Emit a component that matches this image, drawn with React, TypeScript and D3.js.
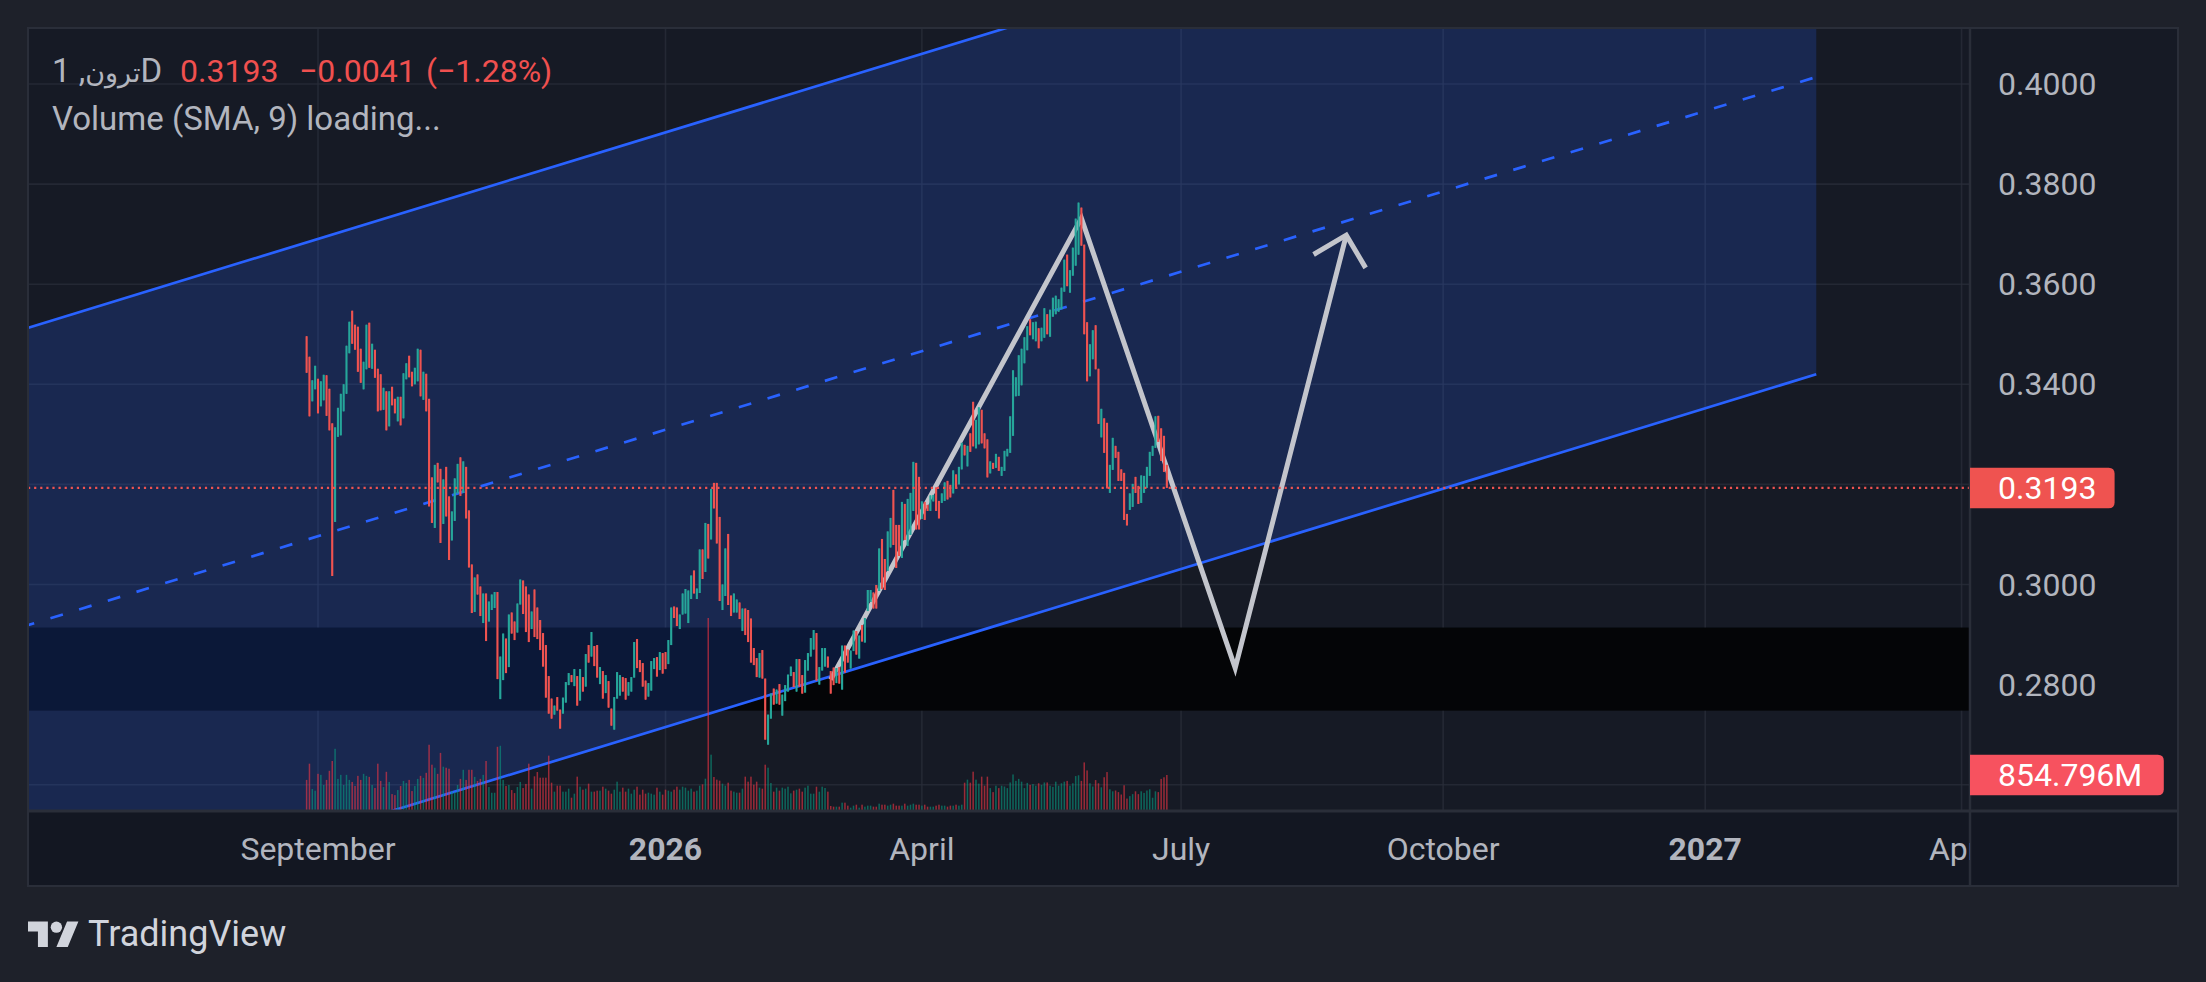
import React, { useEffect } from 'react';
import * as d3 from 'd3';

const W = 2206;
const H = 982;

// daily candles, first bar date; prices are in units of 0.0001
const firstBar = '2025-08-28';

const highs = [
  3496, 3455, 3408, 3437, 3411, 3406, 3419, 3418, 3391, 3322, 3314, 3353, 3381, 3400, 3477, 3525, 3547, 3519, 3515, 3471,
  3445, 3519, 3523, 3481, 3469, 3431, 3420, 3393, 3386, 3386, 3395, 3371, 3375, 3375, 3422, 3442, 3457, 3425, 3433, 3471,
  3469, 3425, 3421, 3371, 3214, 3239, 3243, 3231, 3210, 3235, 3176, 3146, 3212, 3241, 3254, 3246, 3235, 3148, 3040, 3014,
  3020, 2996, 2982, 2982, 2966, 2980, 2985, 2985, 2856, 2902, 2892, 2940, 2944, 2926, 2962, 3010, 3008, 2996, 2980,
  2946, 2990, 2954, 2929, 2903, 2879, 2817, 2772, 2758, 2775, 2750, 2774, 2805, 2823, 2819, 2831, 2817, 2831, 2815, 2861,
  2879, 2905, 2877, 2879, 2835, 2827, 2819, 2807, 2752, 2775, 2825, 2819, 2815, 2813, 2805, 2815, 2885, 2891, 2849, 2843,
  2808, 2803, 2847, 2853, 2855, 2865, 2863, 2865, 2889, 2954, 2956, 2954, 2940, 2982, 2991, 2988, 3018, 3028, 2992, 3070,
  3070, 3123, 3121, 3191, 3203, 3203, 3135, 3000, 3072, 3101, 2978, 2982, 2970, 2964, 2952, 2952, 2949, 2932, 2873, 2853,
  2863,
  2869, 2812, 2740, 2782, 2792, 2790, 2801, 2780, 2799, 2820, 2836, 2825, 2851, 2851, 2819, 2849, 2863, 2893, 2909, 2903,
  2835, 2873, 2873, 2856, 2827, 2834, 2833, 2835, 2878, 2878, 2870, 2868, 2908, 2907, 2898, 2919, 2933, 2989, 2989, 2984,
  2999, 3072, 3091, 3051, 3106, 3133, 3189, 3119, 3119, 3165, 3161, 3171, 3183, 3245, 3243, 3215, 3166, 3165, 3159, 3178,
  3179, 3194, 3167, 3182, 3204, 3207, 3199, 3228, 3220, 3235, 3283, 3279, 3277, 3302, 3365, 3329, 3354, 3349, 3302, 3290,
  3246, 3243, 3261, 3255, 3235, 3267, 3271, 3336, 3428, 3414, 3458, 3471, 3494, 3516, 3530, 3524, 3525, 3512, 3513, 3552,
  3540, 3549, 3573, 3577, 3570, 3593, 3649, 3659, 3628, 3673, 3731, 3763, 3753, 3679, 3524, 3480, 3508, 3518, 3431, 3351,
  3332, 3323, 3239, 3293, 3277, 3265, 3230, 3223, 3141, 3182, 3201, 3215, 3197, 3218, 3217, 3235, 3265, 3277, 3336, 3337,
  3312, 3297, 3239,
];

const lows = [
  3423, 3336, 3366, 3390, 3342, 3356, 3368, 3337, 3308, 3017, 3125, 3295, 3298, 3346, 3381, 3462, 3481, 3469, 3425, 3403,
  3390, 3430, 3433, 3431, 3413, 3346, 3348, 3349, 3308, 3316, 3358, 3342, 3326, 3318, 3332, 3410, 3414, 3396, 3400, 3406,
  3376, 3369, 3346, 3156, 3123, 3113, 3204, 3083, 3121, 3136, 3049, 3088, 3127, 3182, 3177, 3183, 3132, 3034, 2943, 2945,
  2980, 2937, 2923, 2887, 2926, 2949, 2953, 2811, 2771, 2809, 2823, 2835, 2902, 2889, 2904, 2960, 2941, 2905, 2885,
  2911, 2895, 2891, 2869, 2836, 2774, 2742, 2732, 2740, 2748, 2712, 2742, 2764, 2799, 2805, 2797, 2758, 2768, 2786, 2796,
  2844, 2856, 2837, 2814, 2801, 2772, 2783, 2754, 2718, 2710, 2772, 2778, 2786, 2770, 2778, 2786, 2814, 2833, 2825, 2796,
  2770, 2776, 2788, 2831, 2816, 2829, 2822, 2831, 2841, 2879, 2933, 2917, 2911, 2940, 2942, 2923, 2971, 2982, 2971, 2983,
  3011, 3025, 3052, 3090, 3152, 3082, 2967, 2949, 2977, 2959, 2937, 2944, 2944, 2931, 2907, 2899, 2885, 2844, 2839, 2815,
  2814,
  2812, 2690, 2680, 2732, 2760, 2762, 2760, 2738, 2767, 2786, 2817, 2795, 2786, 2796, 2782, 2784, 2828, 2856, 2870, 2808,
  2800, 2828, 2836, 2834, 2782, 2799, 2803, 2802, 2790, 2824, 2844, 2832, 2867, 2860, 2852, 2886, 2884, 2947, 2965, 2952,
  2952, 2987, 2991, 2989, 3027, 3074, 3079, 3033, 3057, 3053, 3089, 3077, 3099, 3147, 3110, 3110, 3131, 3129, 3147, 3147,
  3166, 3147, 3132, 3163, 3167, 3170, 3174, 3182, 3192, 3200, 3230, 3258, 3236, 3265, 3276, 3272, 3280, 3282, 3272, 3214,
  3222, 3231, 3233, 3227, 3217, 3227, 3256, 3263, 3297, 3376, 3377, 3398, 3442, 3468, 3498, 3490, 3486, 3472, 3486, 3493,
  3500, 3495, 3535, 3540, 3545, 3550, 3585, 3596, 3583, 3617, 3637, 3659, 3677, 3500, 3406, 3416, 3450, 3430, 3321, 3294,
  3263, 3192, 3183, 3229, 3253, 3207, 3207, 3129, 3118, 3149, 3155, 3183, 3161, 3163, 3183, 3193, 3217, 3257, 3273, 3285,
  3247, 3225, 3193,
];

// g = up bar, r = down bar
const directions = (
  'rrggrggrrr' + 'ggggggrrrr' + 'ggrgrrrgrg' + 'rrgrggrrgg' + 'rgrrrgrrgr' + 'rgggrgrrrg' + 'rrgrgggrgg' + 'rgrrggrrr' +
  'grrrrrrrgr' + 'rgggrgrgrg' + 'rgrrgrgrrg' + 'ggrrgggrrr' + 'rgggrgrrgg' + 'rrgggggrgg' + 'rgrgrrrggr' + 'rggrgrrrrr' + 'g' +
  'rrggrgrggg' + 'grgrrggggr' + 'gggrrrgrgr' + 'rggrgrgggr' + 'rgrrggrrrg' + 'rgggrrgrrg' + 'grrggrrgrg' + 'grgrrggrrr' +
  'grgrgggggg' + 'ggggrggrgg' + 'rggggggrgg' + 'ggrrrggrrg' + 'rrggrrrrrg' + 'grrggggggr' + 'rrr'
).split('');

// volume in millions
const volumes = [
  738, 1123, 521, 481, 882, 858, 617, 738, 954, 1187, 1476, 762, 858, 617, 858, 738, 690, 593, 834, 738,
  882, 834, 810, 617, 545, 1123, 714, 569, 930, 690, 401, 377, 497, 593, 714, 666, 738, 473, 593, 762,
  834, 786, 906, 1572, 1099, 1027, 882, 1379, 1051, 1027, 1003, 473, 449, 617, 762, 978, 738, 978, 978, 810,
  714, 762, 858, 1187, 569, 433, 433, 1524, 1548, 738, 593, 617, 497, 425, 569, 690, 545, 642, 1123,
  530, 823, 925, 791, 791, 791, 1313, 672, 459, 601, 601, 459, 459, 530, 316, 411, 815, 577, 506, 530,
  649, 459, 459, 483, 483, 577, 530, 483, 411, 506, 696, 459, 554, 459, 530, 411, 506, 577, 388, 506,
  411, 435, 411, 388, 554, 459, 388, 506, 483, 459, 506, 577, 506, 577, 554, 483, 530, 459, 483, 601,
  633, 767, 4580, 1337, 807, 744, 720, 649, 601, 672, 483, 459, 435, 435, 530, 815, 696, 815, 625, 696,
  554,
  530, 1099, 1028, 664, 459, 554, 483, 554, 530, 577, 419, 483, 506, 530, 459, 554, 601, 411, 411, 577,
  459, 577, 546, 459, 119, 103, 103, 103, 198, 198, 127, 79, 127, 150, 79, 150, 103, 127, 127, 103,
  103, 174, 150, 150, 127, 150, 174, 127, 127, 127, 174, 127, 150, 174, 150, 150, 127, 150, 103, 103,
  103, 127, 150, 127, 127, 103, 127, 127, 150, 127, 150, 672, 744, 672, 933, 744, 649, 815, 601, 815,
  543, 448, 600, 543, 600, 581, 543, 677, 867, 715, 762, 696, 543, 667, 619, 639, 600, 658, 619, 677,
  677, 600, 572, 696, 600, 658, 696, 715, 600, 658, 829, 848, 715, 1153, 963, 658, 581, 734, 658, 562,
  801, 924, 515, 467, 486, 448, 391, 610, 295, 353, 400, 467, 400, 467, 429, 486, 515, 315, 467, 448,
  762, 800, 854.796,
];

const lastPrice = 0.3193;
const lastVolume = 854.796;

const priceTicks = [0.26, 0.28, 0.3, 0.32, 0.34, 0.36, 0.38, 0.4];
const timeTickDates = ['2025-09-01', '2026-01-01', '2026-04-01', '2026-07-01', '2026-10-01', '2027-01-01', '2027-04-01'];
const timeTickLabels = ['September', '2026', 'April', 'July', 'October', '2027', 'April'];
const timeTickBold = [false, true, false, false, false, true, false];

// parallel channel (upper / lower edge), mid line is drawn halfway
const channelDates = ['2025-05-20', '2027-02-09'];
const channelUpper = [0.3509, 0.4608];
const channelLower = [0.2321, 0.342];

// dark zone rectangle
const zoneDates = ['2025-04-01', '2027-12-31'];
const zonePrices = [0.2914, 0.2748];

// projected path with arrow
const pathDates = ['2026-02-28', '2026-05-27', '2026-07-20', '2026-08-28'];
const pathPrices = [0.281, 0.3732, 0.2833, 0.3698];

const FONT = "Roboto, 'Noto Sans', 'DejaVu Sans', sans-serif";
const UP = '#26a69a';
const DOWN = '#ef5350';

const plotL = 28, plotR = 1970, plotT = 28, plotB = 811, axisR = 2178, timeB = 886;

const parse = (s: string) => new Date(s + 'T00:00:00Z');

const rightRounded = (x0: number, x1: number, cy: number, h: number, r: number) =>
  `M${x0},${cy - h / 2}H${x1 - r}Q${x1},${cy - h / 2} ${x1},${cy - h / 2 + r}V${cy + h / 2 - r}Q${x1},${cy + h / 2} ${x1 - r},${cy + h / 2}H${x0}Z`;

export default function App() {
  useEffect(() => {
    document.body.style.margin = '0';
    document.body.style.background = '#1e212a';
  }, []);

  const x = d3.scaleUtc()
    .domain([parse('2025-09-01'), parse('2027-01-01')])
    .range([318, 1705.2]);
  const y = d3.scaleLinear().domain([0.28, 0.4]).range([684.6, 84]);
  const vol = d3.scaleLinear()
    .domain([0, d3.max(volumes) as number])
    .range([plotB, plotB - 193]);

  const start = parse(firstBar);
  const bars = highs.map((h, i) => {
    const up = directions[i] === 'g';
    const hi = h / 10000;
    const lo = lows[i] / 10000;
    return {
      cx: x(d3.utcDay.offset(start, i)),
      open: up ? lo : hi,
      close: up ? hi : lo,
      high: hi,
      low: lo,
      up,
      v: volumes[i],
    };
  });

  const cx0 = x(parse(channelDates[0]));
  const cx1 = x(parse(channelDates[1]));
  const channelPoly = [
    [cx0, y(channelUpper[0])], [cx1, y(channelUpper[1])],
    [cx1, y(channelLower[1])], [cx0, y(channelLower[0])],
  ].map(p => p.join(',')).join(' ');
  const mid0 = (channelUpper[0] + channelLower[0]) / 2;
  const mid1 = (channelUpper[1] + channelLower[1]) / 2;

  const pathPts: [number, number][] = pathDates.map((d, i) => [x(parse(d)), y(pathPrices[i])]);
  const pathLine = d3.line()(pathPts) as string;
  const tip = pathPts[pathPts.length - 1];
  const prev = pathPts[pathPts.length - 2];
  const ang = Math.atan2(prev[1] - tip[1], prev[0] - tip[0]);
  const armLen = 38;
  const arm = (a: number) => [tip[0] + armLen * Math.cos(ang + a), tip[1] + armLen * Math.sin(ang + a)];
  const a1 = arm(Math.PI / 4);
  const a2 = arm(-Math.PI / 4);
  const arrow = `M${a1[0]},${a1[1]}L${tip[0]},${tip[1]}L${a2[0]},${a2[1]}`;

  const yLast = y(lastPrice);
  const yVol = vol(lastVolume);
  const labelTicks = priceTicks.filter(p => Math.abs(y(p) - yLast) > 30 && Math.abs(y(p) - yVol) > 30);

  return (
    <svg width={W} height={H} style={{ position: 'absolute', left: 0, top: 0, display: 'block' }} fontFamily={FONT}>
      <defs>
        <clipPath id="plotClip">
          <rect x={plotL} y={plotT} width={plotR - plotL} height={plotB - plotT} />
        </clipPath>
        <clipPath id="timeClip">
          <rect x={plotL} y={plotB} width={plotR - plotL} height={timeB - plotB} />
        </clipPath>
      </defs>

      <rect x={0} y={0} width={W} height={H} fill="#1e212a" />
      <rect x={plotL} y={plotT} width={axisR - plotL} height={timeB - plotT} fill="#161a25" />
      <rect x={plotL} y={plotB} width={axisR - plotL} height={timeB - plotB} fill="#131722" />

      <g clipPath="url(#plotClip)">
        {priceTicks.map(p => (
          <line key={p} x1={plotL} x2={plotR} y1={y(p)} y2={y(p)} stroke="#2a2e39" strokeOpacity={0.75} strokeWidth={1.6} />
        ))}
        {timeTickDates.map(d => (
          <line key={d} x1={x(parse(d))} x2={x(parse(d))} y1={plotT} y2={plotB} stroke="#2a2e39" strokeOpacity={0.75} strokeWidth={1.6} />
        ))}

        <rect
          x={x(parse(zoneDates[0]))}
          width={x(parse(zoneDates[1])) - x(parse(zoneDates[0]))}
          y={y(zonePrices[0])}
          height={y(zonePrices[1]) - y(zonePrices[0])}
          fill="#040507"
        />

        <polygon points={channelPoly} fill="rgba(41,98,255,0.2)" />
        <line x1={cx0} y1={y(channelUpper[0])} x2={cx1} y2={y(channelUpper[1])} stroke="#2962ff" strokeWidth={2.7} />
        <line x1={cx0} y1={y(channelLower[0])} x2={cx1} y2={y(channelLower[1])} stroke="#2962ff" strokeWidth={2.7} />
        <line x1={cx0} y1={y(mid0)} x2={cx1} y2={y(mid1)} stroke="#2962ff" strokeWidth={2.7} strokeDasharray="13 17" />

        <path d={pathLine} fill="none" stroke="#c3c5cc" strokeWidth={5} strokeLinejoin="miter" strokeMiterlimit={10} />
        <path d={arrow} fill="none" stroke="#c3c5cc" strokeWidth={5} strokeLinejoin="miter" strokeMiterlimit={10} />

        {bars.map((b, i) => (
          <rect
            key={'v' + i}
            x={b.cx - 0.75}
            width={1.5}
            y={vol(b.v)}
            height={plotB - vol(b.v)}
            fill={b.up ? 'rgba(8,153,129,0.6)' : 'rgba(242,54,69,0.6)'}
          />
        ))}

        {bars.map((b, i) => {
          const top = y(Math.max(b.open, b.close));
          const bot = y(Math.min(b.open, b.close));
          const c = b.up ? UP : DOWN;
          return (
            <g key={'c' + i}>
              <line x1={b.cx} x2={b.cx} y1={y(b.high)} y2={y(b.low)} stroke={c} strokeWidth={1} />
              <rect x={b.cx - 1.05} width={2.1} y={top} height={Math.max(1, bot - top)} fill={c} />
            </g>
          );
        })}

        <line x1={plotL} x2={plotR} y1={yLast} y2={yLast} stroke={DOWN} strokeWidth={2.4} strokeDasharray="2.2 3.9" />
      </g>

      {/* pane borders */}
      <line x1={plotR} x2={plotR} y1={plotT} y2={timeB} stroke="#2a2e39" strokeWidth={2.5} />
      <line x1={plotL} x2={axisR} y1={plotB} y2={plotB} stroke="#2a2e39" strokeWidth={3} />
      <rect x={plotL} y={plotT} width={axisR - plotL} height={timeB - plotT} fill="none" stroke="#2a2e39" strokeWidth={2} />

      {/* price axis */}
      {labelTicks.map(p => (
        <text key={p} x={1998} y={y(p)} dominantBaseline="central" fontSize={32} fill="#b2b5be">
          {p.toFixed(4)}
        </text>
      ))}
      <path d={rightRounded(plotR, 2114.6, yLast, 40.5, 6)} fill="#ef5350" />
      <text x={1998} y={yLast} dominantBaseline="central" fontSize={32} fill="#ffffff">{lastPrice.toFixed(4)}</text>
      <path d={rightRounded(plotR, 2163.8, yVol, 40.5, 6)} fill="#f7525f" />
      <text x={1998} y={yVol} dominantBaseline="central" fontSize={32} fill="#ffffff">{lastVolume.toFixed(3)}M</text>

      {/* time axis */}
      <g clipPath="url(#timeClip)">
        {timeTickDates.map((d, i) => (
          <text
            key={d}
            x={x(parse(d))}
            y={849}
            textAnchor="middle"
            dominantBaseline="central"
            fontSize={32}
            fontWeight={timeTickBold[i] ? 700 : 400}
            fill="#b2b5be"
          >
            {timeTickLabels[i]}
          </text>
        ))}
      </g>

      {/* legend (symbol title as it is laid out on screen) */}
      <text x={52} y={82} fontSize={33} fill="#b2b5be">
        <tspan>1 ,</tspan>
        <tspan fontSize={27}>ترون</tspan>
        <tspan>D</tspan>
      </text>
      <text y={82} fontSize={32} fill="#f0504f">
        <tspan x={180}>0.3193</tspan>
        <tspan x={299}>−0.0041</tspan>
        <tspan x={426}>(−1.28%)</tspan>
      </text>
      <text x={52} y={129.5} fontSize={33} fill="#b2b5be">Volume (SMA, 9) loading...</text>

      {/* logo */}
      <g transform="translate(28,915.8) scale(1.42)" fill="#d1d4dc">
        <path d="M14 22H7V11H0V4h14v18zM28 22h-8l7.5-18h8L28 22z" />
        <circle cx={20} cy={8} r={4} />
      </g>
      <text x={88} y={946} fontSize={36} fill="#d1d4dc">TradingView</text>
    </svg>
  );
}
